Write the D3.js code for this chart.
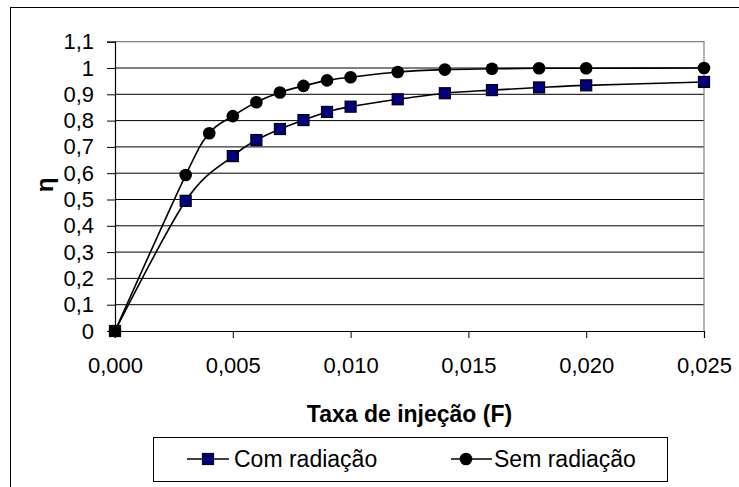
<!DOCTYPE html>
<html>
<head>
<meta charset="utf-8">
<script src="https://cdn.jsdelivr.net/npm/d3@7"></script>
<style>
  html, body { margin: 0; padding: 0; background: #fff; }
  svg { display: block; }
  text { font-family: "Liberation Sans", Arial, sans-serif; fill: #000; }
</style>
</head>
<body>
<svg id="chart" width="739" height="487"></svg>
<script>
// ---- Data ----
const comX = [0, 0.003, 0.005, 0.006, 0.007, 0.008, 0.009, 0.010, 0.012, 0.014, 0.016, 0.018, 0.020, 0.025];
const comY = [0, 0.495, 0.665, 0.726, 0.768, 0.802, 0.833, 0.853, 0.881, 0.904, 0.916, 0.926, 0.934, 0.947];
const semX = [0, 0.003, 0.004, 0.005, 0.006, 0.007, 0.008, 0.009, 0.010, 0.012, 0.014, 0.016, 0.018, 0.020, 0.025];
const semY = [0, 0.593, 0.752, 0.817, 0.870, 0.907, 0.932, 0.953, 0.965, 0.985, 0.994, 0.997, 0.999, 0.999, 1.0];
const xTicks = [0, 0.005, 0.010, 0.015, 0.020, 0.025];
const yTicks = [0, 0.1, 0.2, 0.3, 0.4, 0.5, 0.6, 0.7, 0.8, 0.9, 1, 1.1];
const seriesNames = ["Com radiação", "Sem radiação"];
const xTitle = "Taxa de injeção (F)";
const yTitle = "η";

const svg = d3.select("#chart");
const L = 115, R = 704, T = 41.7, B = 331;

// outer chart border (right/bottom fall outside the picture)
svg.append("rect").attr("x", 10.5).attr("y", 7.5).attr("width", 760).attr("height", 500)
  .attr("fill", "none").attr("stroke", "#000").attr("stroke-width", 1);

const x = d3.scaleLinear().domain([0, 0.025]).range([L, R]);
const y = d3.scaleLinear().domain([0, 1.1]).range([B, T]);

const fmtX = v => d3.format(".3f")(v).replace(".", ",");
const fmtY = v => (Math.round(v * 10) / 10).toString().replace(".", ",");

// gridlines
svg.append("g").selectAll("line").data(yTicks.filter(v => v > 0 && v < 1.1)).join("line")
  .attr("x1", L).attr("x2", R).attr("y1", d => y(d)).attr("y2", d => y(d))
  .attr("stroke", "#000").attr("stroke-width", 1);

// plot border top/right (gray)
svg.append("path")
  .attr("d", `M${L},${T}H${R}V${B}`)
  .attr("fill", "none").attr("stroke", "#808080").attr("stroke-width", 1.2);

// Y axis
const yAxis = svg.append("g").attr("transform", `translate(${L},0)`)
  .call(d3.axisLeft(y).tickValues(yTicks).tickFormat(fmtY).tickSize(8).tickPadding(13));
yAxis.select(".domain").attr("stroke", "#000").attr("stroke-width", 1.2);
yAxis.selectAll(".tick line").attr("stroke", "#000");
yAxis.selectAll("text").style("font-size", "22px").attr("font-family", "Liberation Sans, Arial, sans-serif");

// X axis
const xAxis = svg.append("g").attr("transform", `translate(0,${B})`)
  .call(d3.axisBottom(x).tickValues(xTicks).tickFormat(fmtX).tickSize(7).tickPadding(19));
xAxis.select(".domain").attr("stroke", "#000").attr("stroke-width", 1.2);
xAxis.selectAll(".tick line").attr("stroke", "#000");
xAxis.selectAll("text").style("font-size", "22px").attr("font-family", "Liberation Sans, Arial, sans-serif");

// titles
svg.append("text").attr("x", (L + R) / 2).attr("y", 414).attr("text-anchor", "middle")
  .attr("dominant-baseline", "central")
  .style("font-size", "23px").style("font-weight", "bold").text(xTitle);
svg.append("text").attr("transform", "translate(44,185) rotate(-90)")
  .attr("text-anchor", "middle").attr("dominant-baseline", "central")
  .style("font-size", "24px").style("font-weight", "bold").text(yTitle);

// lines
const line = d3.line().x(d => x(d[0])).y(d => y(d[1])).curve(d3.curveCatmullRom.alpha(0));
const semData = semX.map((v, i) => [v, semY[i]]);
const comData = comX.map((v, i) => [v, comY[i]]);

svg.append("path").datum(semData).attr("d", line)
  .attr("fill", "none").attr("stroke", "#000").attr("stroke-width", 1.6);
svg.append("path").datum(comData).attr("d", line)
  .attr("fill", "none").attr("stroke", "#000").attr("stroke-width", 1.6);

svg.append("g").selectAll("circle").data(semData).join("circle")
  .attr("cx", d => x(d[0])).attr("cy", d => y(d[1])).attr("r", 6.3).attr("fill", "#000");
svg.append("g").selectAll("rect").data(comData).join("rect")
  .attr("x", d => x(d[0]) - 5.5).attr("y", d => y(d[1]) - 5.5)
  .attr("width", 11).attr("height", 11)
  .attr("fill", (d, i) => i === 0 ? "#000" : "#000080").attr("stroke", "#000").attr("stroke-width", 1.2);

// legend
const lg = svg.append("g");
lg.append("rect").attr("x", 153.5).attr("y", 437.5).attr("width", 514).attr("height", 44)
  .attr("fill", "#fff").attr("stroke", "#000").attr("stroke-width", 1);
const legY = 459;
// Com
lg.append("line").attr("x1", 187).attr("x2", 229).attr("y1", legY).attr("y2", legY)
  .attr("stroke", "#000").attr("stroke-width", 1.6);
lg.append("rect").attr("x", 208 - 5.5).attr("y", legY - 5.5).attr("width", 11).attr("height", 11)
  .attr("fill", "#000080").attr("stroke", "#000").attr("stroke-width", 1.2);
lg.append("text").attr("x", 234).attr("y", legY).attr("dominant-baseline", "central")
  .style("font-size", "23px").text(seriesNames[0]);
// Sem
lg.append("line").attr("x1", 451).attr("x2", 492).attr("y1", legY).attr("y2", legY)
  .attr("stroke", "#000").attr("stroke-width", 1.6);
lg.append("circle").attr("cx", 466).attr("cy", legY).attr("r", 6.3).attr("fill", "#000");
lg.append("text").attr("x", 494).attr("y", legY).attr("dominant-baseline", "central")
  .style("font-size", "23px").text(seriesNames[1]);
</script>
</body>
</html>
